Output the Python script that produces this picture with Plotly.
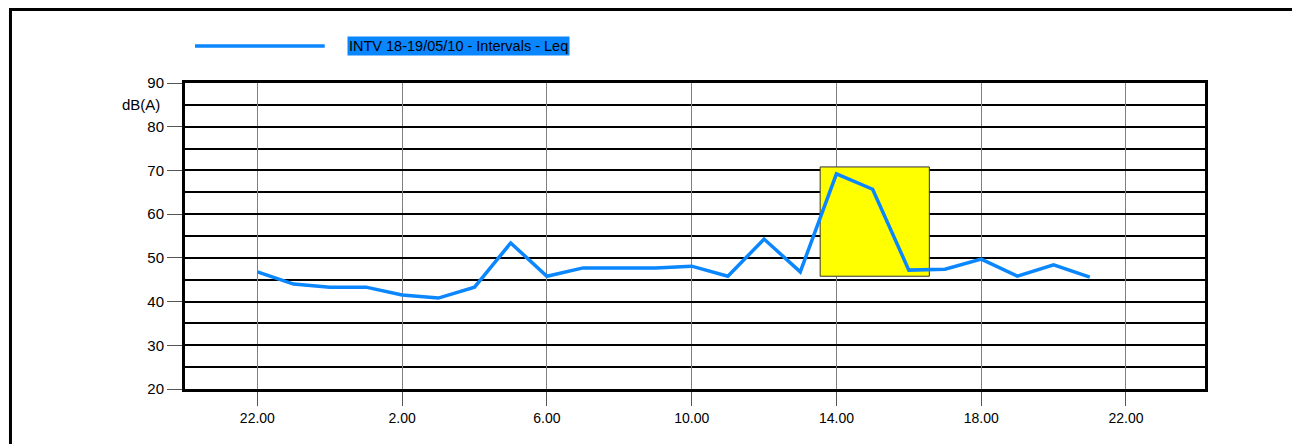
import plotly.graph_objects as go
import pandas as pd

# hourly Leq values, 18/05/10 22:00 -> 19/05/10 21:00
times = pd.date_range("2010-05-18 22:00", periods=24, freq="h")
leq = [46.8, 44.0, 43.3, 43.3, 41.5, 40.8, 43.3, 53.4, 45.8, 47.7, 47.7, 47.7,
       48.1, 45.8, 54.3, 46.8, 69.2, 65.7, 47.2, 47.4, 49.7, 45.8, 48.4, 45.6]

series_name = "INTV 18-19/05/10 - Intervals - Leq"
y_ticks = [20, 30, 40, 50, 60, 70, 80, 90]

# highlighted event window
event_x = ["2010-05-19 13:33", "2010-05-19 16:34"]
event_y = [45.8, 70.8]

blue = "#0a86ff"

fig = go.Figure()
fig.add_trace(go.Scatter(x=times, y=leq, mode="lines", name=series_name,
                         line=dict(color=blue, width=3.5), showlegend=False))

fig.add_shape(type="rect", xref="x", yref="y",
              x0=event_x[0], x1=event_x[1], y0=event_y[0], y1=event_y[1],
              fillcolor="yellow", line=dict(color="#333333", width=1), layer="between")

# outer frame
fig.add_shape(type="rect", xref="paper", yref="paper",
              x0=-0.1711, x1=1.0902, y0=-0.2, y1=1.240,
              line=dict(color="black", width=3), fillcolor="rgba(0,0,0,0)")

# legend sample + label
fig.add_shape(type="line", xref="paper", yref="paper",
              x0=0.0098, x1=0.137, y0=1.121, y1=1.121,
              line=dict(color=blue, width=3.5))
fig.add_annotation(text=series_name, xref="paper", yref="paper",
                   x=0.1588, y=1.121, xanchor="left", yanchor="middle",
                   showarrow=False, bgcolor=blue, borderpad=1,
                   font=dict(size=14.5, color="black"))

fig.add_annotation(text="dB(A)", xref="paper", yref="paper",
                   x=-0.0225, y=0.931, xanchor="right", yanchor="middle",
                   showarrow=False, font=dict(size=15, color="black"))

fig.update_layout(
    width=1292, height=436,
    margin=dict(l=177, r=95, t=75, b=55),
    paper_bgcolor="white", plot_bgcolor="white",
    font=dict(family="Liberation Sans, Arial", color="black"),
    xaxis=dict(
        range=["2010-05-18 20:00", "2010-05-20 00:11"],
        tick0="2010-05-18 22:00", dtick=4 * 3600 * 1000,
        tickformat="%-H.%M",
        showgrid=True, gridcolor="#808080", gridwidth=1,
        ticks="outside", ticklen=14, tickcolor="#555555", tickwidth=1,
        showline=True, mirror=True, linecolor="black", linewidth=3,
        tickfont=dict(size=14), zeroline=False,
    ),
    yaxis=dict(
        range=[20, 90], tickvals=y_ticks,
        showgrid=True, gridcolor="black", gridwidth=2,
        minor=dict(dtick=5, tick0=0, showgrid=True, gridcolor="black", gridwidth=1.5),
        ticks="outside", ticklen=15, tickcolor="#555555", tickwidth=1,
        showline=True, mirror=True, linecolor="black", linewidth=3,
        tickfont=dict(size=15), zeroline=False,
    ),
)

fig.write_html("out.html")
